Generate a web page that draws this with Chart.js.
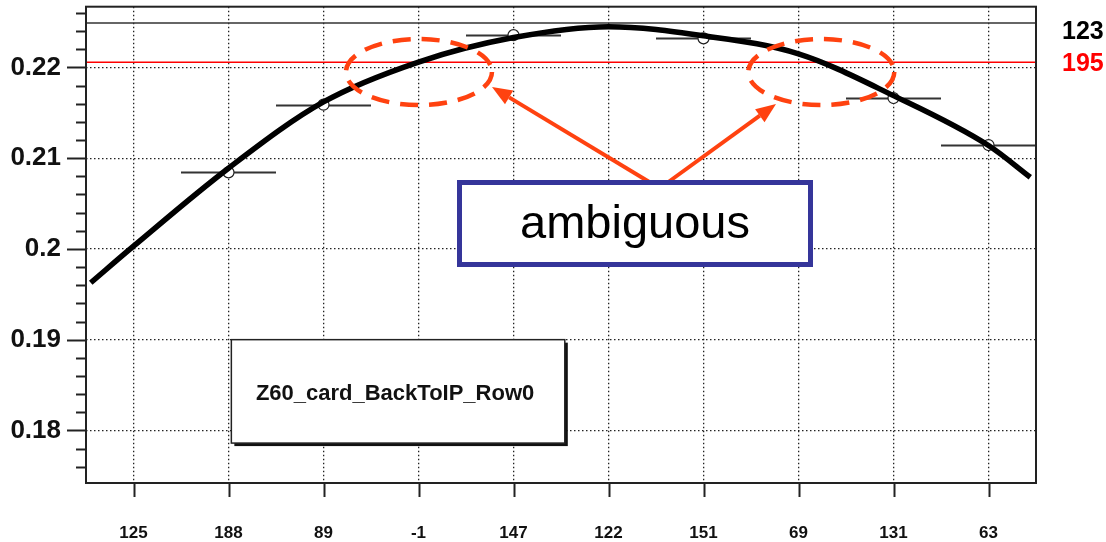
<!DOCTYPE html>
<html>
<head>
<meta charset="utf-8">
<script src="https://cdn.jsdelivr.net/npm/chart.js@4"></script>
<style>
  html, body { margin: 0; padding: 0; background: #fff; }
  #wrap { width: 1106px; height: 542px; position: relative; }
</style>
</head>
<body>
<div id="wrap"><canvas id="graf"></canvas></div>
<script>
// ---------- dados ----------
const categorias = ["125", "188", "89", "-1", "147", "122", "151", "69", "131", "63"];

// pontos medidos (índice da categoria, valor) com barra horizontal = largura do bin
const pontosX = [1, 2, 4, 6, 8, 9];
const pontosY = [0.20844, 0.2159, 0.22357, 0.22321, 0.21663, 0.21145];
const pontosErrX = [0.5, 0.5, 0.5, 0.5, 0.5, 0.5];

// curva ajustada
const ajusteX = [-0.45, 0, 1, 2, 3, 4, 5, 6, 7, 8, 9, 9.44];
const ajusteY = [0.19627, 0.2003, 0.2089, 0.2162, 0.2206, 0.2233, 0.2245, 0.2235, 0.2215, 0.2169, 0.2114, 0.2079];

// linhas de referência
const linhaPreta = 0.22489;
const linhaVermelha = 0.22058;
const rotuloPreto = "123";
const rotuloVermelho = "195";

const tituloCaixa = "Z60_card_BackToIP_Row0";
const textoNota = "ambiguous";

const FONTE = "'Liberation Sans', Arial, sans-serif";

// ---------- plugin de desenho extra ----------
const extras = {
  id: "extras",
  afterDraw(chart) {
    const { ctx, chartArea: a, scales } = chart;
    const x = scales.x, y = scales.y;
    ctx.save();

    // moldura
    ctx.strokeStyle = "#222";
    ctx.lineWidth = 2;
    ctx.strokeRect(a.left, a.top, a.right - a.left, a.bottom - a.top);

    // marcas do eixo y (maiores e menores)
    ctx.lineWidth = 2;
    y.ticks.forEach((t) => {
      const py = Math.round(y.getPixelForValue(t.value)) + 0.5;
      const major = Math.abs(t.value * 100 - Math.round(t.value * 100)) < 1e-6;
      ctx.beginPath();
      ctx.moveTo(a.left - (major ? 19 : 10), py);
      ctx.lineTo(a.left, py);
      ctx.stroke();
    });
    // marcas do eixo x
    x.ticks.forEach((t) => {
      const px = Math.round(x.getPixelForValue(t.value)) + 0.5;
      ctx.beginPath();
      ctx.moveTo(px, a.bottom);
      ctx.lineTo(px, a.bottom + 14);
      ctx.stroke();
    });

    // rótulos à direita
    ctx.font = "bold 25px " + FONTE;
    ctx.textAlign = "left";
    ctx.textBaseline = "middle";
    ctx.fillStyle = "#000";
    ctx.fillText(rotuloPreto, 1062, y.getPixelForValue(linhaPreta) + 9);
    ctx.fillStyle = "#ff0000";
    ctx.fillText(rotuloVermelho, 1062, y.getPixelForValue(linhaVermelha) + 2);

    // caixa com o nome
    const bx = x.getPixelForValue(1.03), bx2 = x.getPixelForValue(4.54);
    const by = y.getPixelForValue(0.19), by2 = y.getPixelForValue(0.1786);
    ctx.fillStyle = "#111";
    ctx.fillRect(bx + 3, by + 3, bx2 - bx, by2 - by);
    ctx.fillStyle = "#fff";
    ctx.fillRect(bx, by, bx2 - bx, by2 - by);
    ctx.strokeStyle = "#222";
    ctx.lineWidth = 1.5;
    ctx.strokeRect(bx, by, bx2 - bx, by2 - by);
    ctx.fillStyle = "#111";
    ctx.font = "bold 22px " + FONTE;
    ctx.textAlign = "center";
    ctx.textBaseline = "middle";
    ctx.fillText(tituloCaixa, (bx + bx2) / 2 - 3, (by + by2) / 2 + 3);

    // elipses tracejadas
    const laranja = "#ff4210";
    ctx.strokeStyle = laranja;
    ctx.lineWidth = 4.5;
    ctx.setLineDash([18, 11]);
    [[3.005, 0.2195], [7.24, 0.2195]].forEach(([cx, cy]) => {
      ctx.beginPath();
      ctx.ellipse(x.getPixelForValue(cx), y.getPixelForValue(cy), 73, 33, 0, 0, Math.PI * 2);
      ctx.stroke();
    });
    ctx.setLineDash([]);

    // setas
    function seta(x0, y0, x1, y1) {
      const ang = Math.atan2(y1 - y0, x1 - x0);
      const L = 20, W = 8;
      const bxh = x1 - L * Math.cos(ang), byh = y1 - L * Math.sin(ang);
      ctx.beginPath();
      ctx.moveTo(x0, y0);
      ctx.lineTo(bxh, byh);
      ctx.stroke();
      ctx.beginPath();
      ctx.moveTo(x1, y1);
      ctx.lineTo(bxh + W * Math.sin(ang), byh - W * Math.cos(ang));
      ctx.lineTo(bxh - W * Math.sin(ang), byh + W * Math.cos(ang));
      ctx.closePath();
      ctx.fill();
    }
    ctx.lineWidth = 4;
    ctx.fillStyle = laranja;
    seta(651, 183, 492, 87);
    seta(667, 183, 776, 104);

    // caixa "ambiguous"
    ctx.fillStyle = "#fff";
    ctx.fillRect(459, 182, 352, 83);
    ctx.strokeStyle = "#35359a";
    ctx.lineWidth = 5;
    ctx.strokeRect(459.5, 182.5, 351, 82);
    ctx.fillStyle = "#000";
    ctx.font = "47px " + FONTE;
    ctx.textAlign = "center";
    ctx.textBaseline = "alphabetic";
    ctx.fillText(textoNota, 635, 238);

    ctx.restore();
  },
};

// barras horizontais dos pontos
const barrasErro = {
  id: "barrasErro",
  beforeDatasetsDraw(chart) {
    const { ctx, scales } = chart;
    ctx.save();
    ctx.strokeStyle = "#333";
    ctx.lineWidth = 2;
    pontosX.forEach((px, i) => {
      const py = Math.round(scales.y.getPixelForValue(pontosY[i])) + 0.5;
      ctx.beginPath();
      ctx.moveTo(scales.x.getPixelForValue(px - pontosErrX[i]), py);
      ctx.lineTo(scales.x.getPixelForValue(px + pontosErrX[i]), py);
      ctx.stroke();
    });
    ctx.restore();
  },
};

// ---------- gráfico ----------
const ticksY = [];
for (let v = 176; v <= 226; v += 2) ticksY.push(v / 1000);

const grade = {
  color: (c) => {
    const v = c.tick ? c.tick.value : 0;
    return Math.abs(v * 100 - Math.round(v * 100)) < 1e-6 ? "#222" : "rgba(0,0,0,0)";
  },
  lineWidth: 1.3,
  drawTicks: false,
};

new Chart(document.getElementById("graf"), {
  type: "line",
  data: {
    datasets: [
      {
        label: "ajuste",
        data: ajusteX.map((v, i) => ({ x: v, y: ajusteY[i] })),
        borderColor: "#000",
        borderWidth: 5.5,
        pointRadius: 0,
        cubicInterpolationMode: "monotone",
        order: 0,
      },
      {
        label: "pontos",
        data: pontosX.map((v, i) => ({ x: v, y: pontosY[i] })),
        showLine: false,
        pointRadius: 5.5,
        pointBackgroundColor: "#fff",
        pointBorderColor: "#222",
        pointBorderWidth: 1.2,
        order: 1,
      },
      {
        label: rotuloVermelho,
        data: [{ x: -0.5, y: linhaVermelha }, { x: 9.5, y: linhaVermelha }],
        borderColor: "#ff0000",
        borderWidth: 1.5,
        pointRadius: 0,
        order: 2,
      },
      {
        label: rotuloPreto,
        data: [{ x: -0.5, y: linhaPreta }, { x: 9.5, y: linhaPreta }],
        borderColor: "#333",
        borderWidth: 1.5,
        pointRadius: 0,
        order: 2,
      },
    ],
  },
  options: {
    responsive: true,
    maintainAspectRatio: false,
    animation: false,
    events: [],
    layout: { padding: { top: 4, right: 70, left: 0, bottom: 0 } },
    plugins: { legend: { display: false }, tooltip: { enabled: false } },
    scales: {
      x: {
        type: "linear",
        min: -0.5,
        max: 9.5,
        afterBuildTicks: (s) => { s.ticks = categorias.map((_, i) => ({ value: i })); },
        afterFit: (s) => {
          s.height = 59;
          s.paddingLeft = 0; s.paddingRight = 0; s.paddingTop = 0; s.paddingBottom = 0;
        },
        ticks: {
          callback: (v) => categorias[v],
          color: "#111",
          font: { family: FONTE, size: 17, weight: "bold" },
          padding: 40,
          maxRotation: 0,
          autoSkip: false,
        },
        grid: { color: "#222", lineWidth: 1.3, drawTicks: false },
        border: { display: false, dash: [1.5, 2.5] },
      },
      y: {
        min: 0.1742,
        max: 0.2267,
        afterBuildTicks: (s) => { s.ticks = ticksY.map((v) => ({ value: v })); },
        afterFit: (s) => {
          s.width = 86;
          s.paddingLeft = 0; s.paddingRight = 0; s.paddingTop = 0; s.paddingBottom = 0;
        },
        ticks: {
          callback: (v) => {
            const r = Math.round(v * 100);
            return Math.abs(v * 100 - r) < 1e-6 ? String(r / 100) : "";
          },
          color: "#111",
          font: { family: FONTE, size: 26, weight: "bold" },
          padding: 25,
          autoSkip: false,
        },
        grid: grade,
        border: { display: false, dash: [1.5, 2.5] },
      },
    },
  },
  plugins: [barrasErro, extras],
});
</script>
</body>
</html>
